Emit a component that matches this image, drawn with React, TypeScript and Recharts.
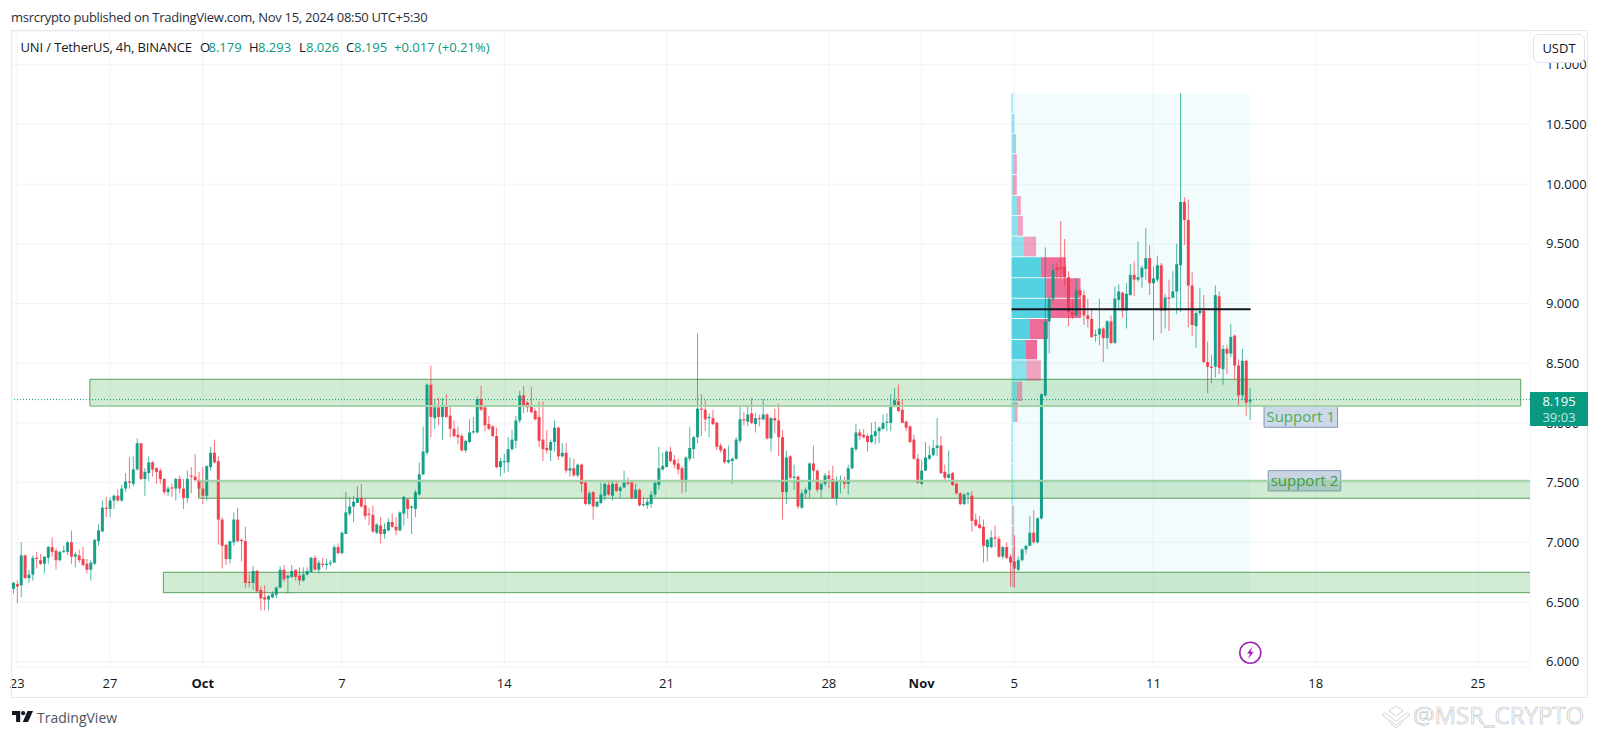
import {
  ComposedChart,
  Bar,
  XAxis,
  YAxis,
  CartesianGrid,
  ReferenceArea,
  ReferenceLine,
} from "recharts";

// UNI/USDT 4h candles, each row is [open, high, low, close]
const septemberCandles = [
  [6.61,6.67,6.57,6.66],[6.65,6.68,6.49,6.63],[6.64,7.0,6.54,6.89],[6.89,6.9,6.69,6.7],[6.7,6.77,6.66,6.73],[6.73,6.89,6.68,6.87],
  [6.87,6.92,6.78,6.86],[6.85,6.9,6.81,6.82],[6.82,6.88,6.74,6.88],[6.87,6.97,6.82,6.96],[6.96,7.04,6.88,6.92],[6.93,6.95,6.77,6.85],
  [6.85,6.93,6.84,6.92],[6.92,6.97,6.91,6.93],[6.92,7.01,6.89,7.0],[7.0,7.1,6.82,6.88],[6.88,6.92,6.79,6.9],[6.89,6.94,6.83,6.85],
  [6.86,6.96,6.8,6.81],[6.82,6.86,6.74,6.77],[6.77,6.85,6.68,6.83],[6.82,7.03,6.81,7.02],[7.01,7.15,6.97,7.1],[7.09,7.35,7.09,7.29],
  [7.29,7.38,7.21,7.28],[7.28,7.38,7.21,7.35],[7.35,7.4,7.28,7.39],[7.39,7.44,7.34,7.35],[7.35,7.48,7.34,7.45],[7.45,7.58,7.42,7.51],
  [7.51,7.71,7.45,7.5],[7.49,7.72,7.47,7.61],[7.61,7.87,7.6,7.83],[7.83,7.83,7.52,7.53],[7.53,7.62,7.39,7.59],[7.58,7.72,7.51,7.67],
  [7.67,7.68,7.55,7.61],[7.62,7.63,7.49,7.59],[7.6,7.62,7.49,7.53],[7.53,7.54,7.4,7.42],[7.42,7.47,7.39,7.45],[7.46,7.49,7.38,7.45],
  [7.45,7.54,7.35,7.53],[7.53,7.56,7.41,7.45],[7.45,7.53,7.28,7.37],[7.37,7.6,7.33,7.53],[7.56,7.63,7.41,7.55],[7.55,7.74,7.51,7.52],
  [7.52,7.59,7.38,7.45],
];

const earlyOctoberCandles = [
  [7.45,7.63,7.32,7.39],[7.39,7.64,7.35,7.64],[7.63,7.8,7.6,7.75],[7.75,7.86,7.66,7.67],[7.68,7.72,6.98,7.19],[7.19,7.21,6.78,6.97],
  [6.98,6.98,6.81,6.86],[6.86,7.01,6.82,7.01],[7.0,7.25,6.97,7.19],[7.19,7.29,7.0,7.01],[7.02,7.03,6.84,7.01],[7.01,7.13,6.62,6.66],
  [6.67,6.74,6.62,6.66],[6.66,6.8,6.6,6.76],[6.76,6.77,6.58,6.59],[6.6,6.63,6.43,6.53],[6.54,6.64,6.43,6.52],[6.52,6.56,6.43,6.55],
  [6.54,6.59,6.53,6.57],[6.56,6.63,6.53,6.62],[6.62,6.8,6.62,6.77],[6.77,6.81,6.67,6.69],[6.7,6.73,6.57,6.72],[6.71,6.81,6.7,6.76],
  [6.77,6.77,6.68,6.71],[6.72,6.79,6.64,6.68],[6.68,6.79,6.67,6.73],[6.73,6.79,6.72,6.76],[6.75,6.88,6.75,6.87],[6.87,6.89,6.76,6.77],
  [6.77,6.85,6.74,6.83],[6.82,6.87,6.79,6.81],[6.81,6.86,6.77,6.82],[6.82,6.85,6.8,6.83],[6.83,6.98,6.83,6.96],[6.96,6.99,6.9,6.91],
  [6.91,7.09,6.9,7.08],[7.07,7.42,7.07,7.25],[7.24,7.38,7.22,7.3],[7.3,7.39,7.17,7.34],[7.33,7.47,7.33,7.37],[7.37,7.49,7.29,7.3],
  [7.31,7.37,7.19,7.22],[7.24,7.29,7.14,7.23],[7.23,7.31,7.08,7.09],[7.08,7.16,7.07,7.15],[7.14,7.21,6.99,7.07],[7.07,7.16,7.03,7.11],
  [7.1,7.2,7.09,7.17],[7.17,7.24,7.12,7.13],[7.13,7.21,7.06,7.1],[7.1,7.26,7.09,7.25],[7.24,7.39,7.14,7.38],[7.36,7.37,7.2,7.28],
  [7.29,7.31,7.07,7.3],[7.28,7.44,7.21,7.42],[7.4,7.67,7.39,7.57],[7.57,7.97,7.56,7.76],[7.75,8.33,7.73,8.32],[8.32,8.48,7.88,8.05],
  [8.04,8.2,7.95,8.13],[8.13,8.21,7.98,8.05],[8.05,8.21,7.86,8.14],[8.14,8.24,8.04,8.05],[8.06,8.14,7.88,7.95],[7.95,8.02,7.88,7.89],
  [7.9,7.97,7.82,7.88],[7.89,7.91,7.76,7.77],[7.77,7.86,7.75,7.85],[7.84,8.03,7.83,7.92],[7.92,8.05,7.91,7.93],[7.92,8.22,7.91,8.2],
  [8.2,8.31,8.1,8.11],[8.13,8.14,7.93,7.98],[7.99,8.06,7.94,7.95],[7.97,7.98,7.88,7.89],[7.89,7.96,7.62,7.63],[7.63,7.71,7.55,7.68],
  [7.67,7.74,7.58,7.68],[7.67,7.88,7.59,7.78],[7.78,7.94,7.77,7.86],[7.85,8.06,7.79,8.02],[8.02,8.27,8.0,8.23],[8.23,8.31,8.08,8.14],
  [8.17,8.18,8.09,8.13],[8.14,8.3,8.08,8.09],[8.1,8.12,8.02,8.03],[8.05,8.18,7.8,7.85],[7.86,8.18,7.68,7.78],[7.79,7.94,7.74,7.77],
  [7.77,7.86,7.68,7.84],[7.84,8.02,7.76,7.96],[7.96,7.97,7.69,7.72],[7.72,7.83,7.71,7.75],[7.75,7.83,7.58,7.6],[7.6,7.71,7.55,7.62],
  [7.62,7.7,7.55,7.56],[7.56,7.66,7.54,7.65],[7.65,7.66,7.42,7.49],[7.5,7.51,7.31,7.32],
];

const lateOctoberCandles = [
  [7.32,7.43,7.31,7.41],[7.42,7.43,7.19,7.3],[7.3,7.35,7.29,7.34],[7.33,7.5,7.32,7.4],[7.39,7.5,7.35,7.49],[7.48,7.51,7.39,7.4],
  [7.39,7.52,7.35,7.49],[7.49,7.51,7.42,7.43],[7.43,7.47,7.37,7.46],[7.46,7.6,7.45,7.5],[7.5,7.54,7.48,7.49],[7.5,7.51,7.36,7.37],
  [7.37,7.49,7.36,7.44],[7.44,7.45,7.3,7.31],[7.31,7.38,7.3,7.32],[7.31,7.37,7.28,7.34],[7.32,7.43,7.29,7.4],[7.4,7.5,7.38,7.5],
  [7.48,7.8,7.44,7.62],[7.61,7.75,7.6,7.64],[7.63,7.77,7.63,7.76],[7.76,7.8,7.67,7.68],[7.69,7.73,7.62,7.65],[7.66,7.7,7.57,7.61],
  [7.62,7.64,7.41,7.51],[7.51,7.72,7.42,7.71],[7.7,7.97,7.68,7.79],[7.78,7.89,7.7,7.88],[7.88,8.75,7.83,8.12],[8.12,8.24,7.89,8.11],
  [8.11,8.19,7.93,8.03],[8.04,8.08,7.88,8.05],[8.04,8.11,7.98,7.99],[8.0,8.01,7.77,7.8],[7.81,7.83,7.75,7.77],[7.78,7.79,7.66,7.67],
  [7.67,7.81,7.66,7.69],[7.68,7.71,7.49,7.7],[7.7,7.88,7.69,7.86],[7.85,8.14,7.83,8.03],[8.03,8.09,7.98,8.02],[8.01,8.14,7.97,8.07],
  [8.08,8.21,7.99,8.0],[7.99,8.08,7.92,8.04],[8.04,8.07,7.97,8.03],[8.03,8.2,8.02,8.07],[8.07,8.08,7.86,7.87],[7.87,8.05,7.76,8.04],
  [8.04,8.12,7.91,8.02],[8.02,8.16,7.72,7.88],[7.88,7.94,7.19,7.42],[7.42,7.77,7.32,7.71],[7.72,7.73,7.53,7.54],[7.54,7.65,7.44,7.55],
  [7.55,7.56,7.28,7.3],[7.29,7.44,7.28,7.41],[7.41,7.46,7.37,7.44],[7.44,7.67,7.37,7.66],[7.66,7.81,7.52,7.6],[7.6,7.61,7.42,7.44],
  [7.44,7.5,7.37,7.49],[7.49,7.58,7.47,7.56],[7.56,7.6,7.45,7.53],[7.53,7.64,7.37,7.37],[7.37,7.55,7.31,7.51],[7.51,7.56,7.41,7.52],
  [7.51,7.55,7.45,7.49],[7.49,7.65,7.4,7.62],[7.62,7.8,7.61,7.79],[7.78,7.99,7.76,7.92],[7.92,7.95,7.86,7.89],[7.9,7.95,7.87,7.88],
  [7.89,7.91,7.76,7.84],[7.84,8.0,7.83,7.9],[7.89,8.01,7.82,7.93],[7.93,7.97,7.83,7.96],[7.95,8.07,7.94,8.0],[8.0,8.08,7.93,8.01],
  [8.0,8.24,7.93,8.14],[8.14,8.29,8.13,8.19],[8.18,8.32,8.09,8.1],[8.11,8.19,8.0,8.0],[8.01,8.02,7.93,7.96],[7.97,7.98,7.83,7.84],
  [7.86,7.9,7.69,7.7],[7.7,7.74,7.49,7.5],
];

const novemberCandles = [
  [7.49,7.69,7.48,7.6],[7.6,7.84,7.6,7.71],[7.7,7.81,7.69,7.73],[7.73,7.86,7.72,7.79],[7.79,8.04,7.72,7.81],[7.81,7.89,7.57,7.58],
  [7.59,7.65,7.52,7.54],[7.54,7.77,7.53,7.57],[7.58,7.59,7.47,7.48],[7.49,7.5,7.4,7.41],[7.41,7.42,7.31,7.32],[7.32,7.41,7.31,7.4],
  [7.4,7.42,7.32,7.41],[7.39,7.43,7.09,7.18],[7.19,7.24,7.13,7.14],[7.15,7.22,7.11,7.12],[7.13,7.19,6.83,6.97],[6.96,7.03,6.84,7.02],
  [6.96,7.1,6.95,7.04],[7.04,7.14,6.96,7.03],[7.03,7.05,6.87,6.88],[6.88,6.97,6.86,6.96],[6.96,7.0,6.86,6.87],[6.88,6.9,6.63,6.83],
  [6.84,7.06,6.62,6.78],[6.77,6.88,6.76,6.85],[6.85,6.95,6.84,6.94],[6.94,6.98,6.9,6.97],[6.97,7.22,6.97,7.08],[7.08,7.27,6.99,7.0],
  [7.0,7.21,6.99,7.2],[7.2,8.25,7.19,8.24],[8.23,9.47,8.22,8.85],[8.85,9.06,8.58,9.04],[9.04,9.33,9.01,9.28],[9.3,9.34,9.21,9.28],
  [9.3,9.69,9.21,9.29],[9.31,9.54,9.15,9.22],[9.22,9.27,8.81,8.93],[8.93,9.04,8.87,8.9],[8.9,9.21,8.89,9.11],[9.11,9.11,8.9,9.07],
  [9.07,9.11,8.82,8.9],[8.9,9.04,8.8,8.87],[8.87,8.95,8.71,8.72],[8.73,8.78,8.68,8.74],[8.74,9.04,8.65,8.79],[8.79,8.8,8.51,8.71],
  [8.71,8.86,8.62,8.85],[8.85,8.9,8.66,8.67],[8.67,9.14,8.66,9.04],[9.03,9.16,8.94,9.1],[9.09,9.1,8.88,8.94],[8.94,9.17,8.79,9.08],
  [9.07,9.33,9.07,9.24],[9.24,9.35,9.06,9.2],[9.2,9.52,9.18,9.22],[9.22,9.32,9.13,9.3],[9.29,9.63,9.2,9.38],[9.38,9.49,9.07,9.17],
  [9.17,9.31,8.69,9.21],[9.2,9.4,9.18,9.32],[9.32,9.34,8.75,8.94],[8.94,9.08,8.79,9.05],[9.05,9.2,8.77,9.04],[9.05,9.27,9.04,9.1],
  [9.1,9.5,8.91,9.33],[9.32,10.76,8.93,9.85],[9.85,9.89,9.49,9.7],[9.7,9.87,8.8,9.15],[9.15,9.26,8.73,8.82],[8.81,8.95,8.63,8.92],
  [8.92,9.13,8.9,8.94],[8.94,9.07,8.5,8.51],[8.51,8.68,8.25,8.47],[8.47,8.57,8.33,8.46],[8.47,9.15,8.38,9.07],[9.06,9.1,8.41,8.46],
  [8.45,8.65,8.32,8.62],[8.62,8.65,8.41,8.58],[8.58,8.83,8.55,8.72],[8.73,8.74,8.36,8.48],[8.48,8.53,8.14,8.23],[8.23,8.62,8.19,8.52],
  [8.52,8.53,8.06,8.17],[8.179,8.293,8.026,8.195],
];

// x axis is measured in days after Sep 23, labels sit at these days
const timeTicks = [0, 4, 8, 14, 21, 28, 35, 39, 43, 49, 56, 63];
const timeLabels = ["23", "27", "Oct", "7", "14", "21", "28", "Nov", "5", "11", "18", "25"];
const priceTicks = [6, 6.5, 7, 7.5, 8, 8.5, 9, 9.5, 10, 10.5, 11];

// support zones drawn on the chart
const zoneFrom = [3.13, 7.82, 6.3];
const zoneTo = [64.84, 66, 66];
const zoneTop = [8.365, 7.516, 6.749];
const zoneBottom = [8.142, 7.369, 6.578];

// fixed range volume profile, edges run from top to bottom
const profileEdges = [
  10.76, 10.587, 10.42, 10.25, 10.076, 9.9, 9.733, 9.56, 9.387, 9.211, 9.04, 8.87, 8.694, 8.524, 8.345, 8.175, 8.0, 7.828,
  7.656, 7.482, 7.309, 7.136, 6.963, 6.79, 6.617,
];
const profileUp = [1.3, 2.7, 3.3, 2.7, 1.3, 5.3, 5.7, 12.3, 29.3, 34.7, 36.3, 18.3, 14.3, 15, 5.3, 3.3, 1.3, 1.3, 1.3, 1.3, 1, 1, 1, 1];
const profileDown = [0, 0, 1, 2.6, 4, 4, 5.7, 12.3, 25, 34.3, 33.3, 18.3, 11.3, 14.3, 5.3, 2.7, 0, 0, 0, 0, 1.3, 1.3, 2.3, 1];
const valueAreaBins = [8, 9, 10, 11, 12];

const UP = "#089981";
const DOWN = "#f23645";
const DOMAIN_X: [number, number] = [-0.2285, 65.24];
const DOMAIN_Y: [number, number] = [5.9556, 11.282];
const RANGE_START = 42.88;
const RANGE_END = 53.19;
const RANGE_TOP = 10.76;
const RANGE_BOTTOM = 6.578;
const POC = 8.951;
const LAST_PRICE = 8.195;
const PROFILE_SCALE = 1 / 23.19; // days per volume unit

const candles = [...septemberCandles, ...earlyOctoberCandles, ...lateOctoberCandles, ...novemberCandles];
const chartData = candles.map((c, i) => ({
  day: (i - 1) / 6,
  open: c[0],
  high: c[1],
  low: c[2],
  close: c[3],
  range: [c[2], c[1]],
}));

function Candle(props: any) {
  const { x, y, width, height, payload } = props;
  const top = Math.min(y, y + height);
  const h = Math.abs(height);
  const perPrice = h / (payload.high - payload.low || 1);
  const color = payload.close >= payload.open ? UP : DOWN;
  const cx = x + width / 2 + 0.5;
  const bodyTop = top + (payload.high - Math.max(payload.open, payload.close)) * perPrice;
  const bodyH = Math.max(Math.abs(payload.open - payload.close) * perPrice, 1);
  return (
    <g>
      <line x1={cx} x2={cx} y1={top} y2={top + h} stroke={color} strokeOpacity={0.7} strokeWidth={1} />
      <rect x={cx - 1.5} y={bodyTop} width={3} height={bodyH} fill={color} fillOpacity={0.9} />
    </g>
  );
}

function TimeTick(props: any) {
  const { x, y, payload } = props;
  const idx = timeTicks.indexOf(payload.value);
  const label = timeLabels[idx];
  const isMonth = label === "Oct" || label === "Nov";
  return (
    <text x={x} y={y + 10} textAnchor="middle" dominantBaseline="middle" fontSize={13} fontWeight={isMonth ? 700 : 400} fill="#131722" fontFamily="'Open Sans', sans-serif">
      {label}
    </text>
  );
}

function TextAt({ left, top, color, size, children, style }: any) {
  return (
    <div style={{ position: "absolute", left, top, color: color || "#131722", fontSize: size || 13, lineHeight: "16px", whiteSpace: "nowrap", ...style }}>
      {children}
    </div>
  );
}

export default function App() {
  return (
    <div style={{ position: "absolute", left: 0, top: 0, width: 1600, height: 737, background: "#fff", overflow: "hidden", fontFamily: "'Open Sans', sans-serif" }}>
      <ComposedChart
        width={1600}
        height={737}
        data={chartData}
        margin={{ top: 31, right: 12, bottom: 39, left: 12 }}
      >
        <CartesianGrid stroke="#f0f3fa" />
        <XAxis
          dataKey="day"
          type="number"
          domain={DOMAIN_X}
          allowDataOverflow
          ticks={timeTicks}
          interval={0}
          height={31}
          tick={<TimeTick />}
          tickLine={false}
          axisLine={false}
        />
        <YAxis
          type="number"
          orientation="right"
          domain={DOMAIN_Y}
          allowDataOverflow
          ticks={priceTicks}
          interval={0}
          width={58}
          tickMargin={10}
          tickFormatter={(v: number) => v.toFixed(3)}
          tick={{ fontSize: 13, fill: "#131722", textAnchor: "start" }}
          tickLine={false}
          axisLine={false}
        />

        {/* range background sits under the candles */}
        <ReferenceArea x1={RANGE_START} x2={RANGE_END} y1={RANGE_BOTTOM} y2={RANGE_TOP} fill="#00bcd4" fillOpacity={0.05} stroke="none" />

        <Bar dataKey="range" barSize={3} shape={<Candle />} isAnimationActive={false} />

        {/* support 2 label goes under its zone */}
        <ReferenceArea
          x1={53.95}
          x2={57.08}
          y1={7.43}
          y2={7.6}
          fill="#c3cfe2"
          stroke="#8496b8"
          fillOpacity={0.9}
          label={{ value: "support 2", position: "center", fill: "#3f9c46", fontSize: 15 }}
        />

        {zoneFrom.map((from, i) => (
          <ReferenceArea
            key={`zone-${i}`}
            x1={from}
            x2={zoneTo[i]}
            y1={zoneBottom[i]}
            y2={zoneTop[i]}
            fill="#4caf50"
            fillOpacity={0.25}
            stroke="#56a05b"
            strokeWidth={1}
            ifOverflow="hidden"
          />
        ))}
        {/* these two edges look paler and thicker in the picture */}
        <ReferenceLine
          segment={[
            { x: zoneFrom[0], y: zoneBottom[0] },
            { x: zoneTo[0], y: zoneBottom[0] },
          ]}
          stroke="#a3d3a6"
          strokeWidth={2}
        />
        <ReferenceLine
          segment={[
            { x: zoneFrom[1], y: zoneTop[1] },
            { x: DOMAIN_X[1], y: zoneTop[1] },
          ]}
          stroke="#a3d3a6"
          strokeWidth={2}
        />

        <ReferenceArea
          x1={53.77}
          x2={56.94}
          y1={7.963}
          y2={8.142}
          fill="#cdd8e8"
          stroke="#8496b8"
          fillOpacity={1}
          label={{ value: "Support 1", position: "center", fill: "#4caf50", fontSize: 15 }}
        />

        {profileUp.map((vol, i) => (
          <ReferenceArea
            key={`up-${i}`}
            x1={RANGE_START}
            x2={RANGE_START + vol * PROFILE_SCALE}
            y1={profileEdges[i + 1] + 0.008}
            y2={profileEdges[i]}
            fill="#00bcd4"
            fillOpacity={valueAreaBins.includes(i) ? 0.65 : 0.42}
            stroke="none"
          />
        ))}
        {profileDown.map((vol, i) =>
          vol > 0 ? (
            <ReferenceArea
              key={`down-${i}`}
              x1={RANGE_START + profileUp[i] * PROFILE_SCALE}
              x2={RANGE_START + (profileUp[i] + vol) * PROFILE_SCALE}
              y1={profileEdges[i + 1] + 0.008}
              y2={profileEdges[i]}
              fill="#e91e63"
              fillOpacity={valueAreaBins.includes(i) ? 0.65 : 0.4}
              stroke="none"
            />
          ) : null
        )}

        <ReferenceLine
          segment={[
            { x: RANGE_START, y: POC },
            { x: RANGE_END, y: POC },
          ]}
          stroke="#131722"
          strokeWidth={2}
        />
        <ReferenceLine y={LAST_PRICE} stroke={UP} strokeDasharray="1 2" strokeWidth={1} />
      </ComposedChart>

      {/* frame around chart and scales */}
      <div style={{ position: "absolute", left: 11, top: 30, width: 1577, height: 668, border: "1px solid #e6e8ee", boxSizing: "border-box", pointerEvents: "none" }} />

      <TextAt left={11} top={9} color="#2a2e39" style={{ letterSpacing: -0.28 }}>msrcrypto published on TradingView.com, Nov 15, 2024 08:50 UTC+5:30</TextAt>

      <TextAt left={20.5} top={39} style={{ letterSpacing: -0.13 }}>UNI / TetherUS, 4h, BINANCE</TextAt>
      <TextAt left={200} top={39}>O</TextAt>
      <TextAt left={208.5} top={39} color={UP}>8.179</TextAt>
      <TextAt left={249} top={39}>H</TextAt>
      <TextAt left={258} top={39} color={UP}>8.293</TextAt>
      <TextAt left={299} top={39}>L</TextAt>
      <TextAt left={306} top={39} color={UP}>8.026</TextAt>
      <TextAt left={346} top={39}>C</TextAt>
      <TextAt left={354} top={39} color={UP}>8.195</TextAt>
      <TextAt left={394} top={39} color={UP}>+0.017 (+0.21%)</TextAt>

      {/* USDT button */}
      <div style={{ position: "absolute", left: 1533, top: 34, width: 52, height: 29, boxSizing: "border-box", border: "1px solid #e0e3eb", borderRadius: 6, background: "#fff", fontSize: 13, lineHeight: "27px", textAlign: "center", color: "#131722" }}>
        USDT
      </div>

      {/* last price label */}
      <div style={{ position: "absolute", left: 1530, top: 392, width: 58, height: 34, background: UP, color: "#fff", fontSize: 13, lineHeight: "16px", textAlign: "center", paddingTop: 1, boxSizing: "border-box" }}>
        <div>8.195</div>
        <div style={{ opacity: 0.75 }}>39:03</div>
      </div>

      {/* lightning badge */}
      <svg style={{ position: "absolute", left: 1238, top: 641 }} width={25} height={25} viewBox="0 0 25 25">
        <circle cx={12.3} cy={11.7} r={10.5} fill="#fff" stroke="#9c27b0" strokeWidth={1.6} />
        <path d="M14.5 5.5 L9 12.5 H12 L10 18 L15.8 10.8 H12.6 Z" fill="#9c27b0" />
      </svg>

      {/* TradingView logo */}
      <svg style={{ position: "absolute", left: 12, top: 711 }} width={21} height={12} viewBox="0 0 23 13">
        <path d="M0 0 H9 V12 H4.5 V4.4 H0 Z" fill="#131722" />
        <circle cx={12.2} cy={2.3} r={2.3} fill="#131722" />
        <path d="M17 0 H23 L17.6 12 H11.8 Z" fill="#131722" />
      </svg>
      <TextAt left={37} top={708} size={14} color="#50535e" style={{ lineHeight: "20px" }}>TradingView</TextAt>

      {/* watermark */}
      <svg style={{ position: "absolute", left: 1381, top: 705 }} width={30} height={25} viewBox="0 0 30 25" fill="none" stroke="#c9c9c9" strokeWidth={0.8}>
        <path d="M8 6 L15 1 L22 6 L15 11 Z" />
        <path d="M1 10 L4 8 L15 16 L26 8 L29 10 L15 20 Z" />
        <path d="M7 16 L15 23 L23 16" />
      </svg>
      <TextAt left={1413} top={699} size={24} color="#fff" style={{ lineHeight: "32px", WebkitTextStroke: "0.6px #bdbdbd" }}>@MSR_CRYPTO</TextAt>
    </div>
  );
}
